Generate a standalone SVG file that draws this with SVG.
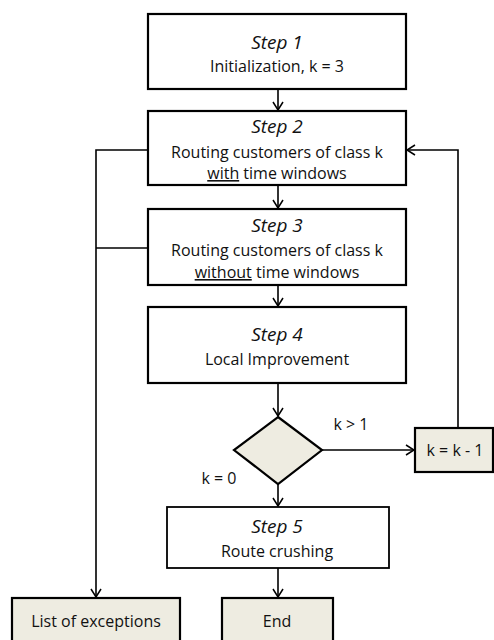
<svg xmlns="http://www.w3.org/2000/svg" width="494" height="640" viewBox="0 0 494 640">
<defs>
<marker id="arr" viewBox="0 0 12 12" refX="11" refY="6" markerWidth="12" markerHeight="12" markerUnits="userSpaceOnUse" orient="auto">
<polyline points="3,1 11,6 3,11" fill="none" stroke="#000" stroke-width="1.5"/>
</marker>
<style>
.box{fill:#fff;stroke:#000;stroke-width:2.2}
.beige{fill:#EEECE1;stroke:#000;stroke-width:2.2}
.t{font-family:"Open Sans","Liberation Sans",sans-serif;font-size:16px;fill:#111;text-anchor:middle}
.i{font-style:italic;font-size:19px}
.c{fill:none;stroke:#000;stroke-width:1.6}
</style>
</defs>
<rect width="494" height="640" fill="#fff"/>
<g id="connectors">
<path class="c" d="M278 89 V110" marker-end="url(#arr)"/>
<path class="c" d="M278 185 V208" marker-end="url(#arr)"/>
<path class="c" d="M278 285 V306" marker-end="url(#arr)"/>
<path class="c" d="M278 383 V416" marker-end="url(#arr)"/>
<path class="c" d="M322 450 H414" marker-end="url(#arr)"/>
<path class="c" d="M458 428 V150 H407" marker-end="url(#arr)"/>
<path class="c" d="M278 484 V506" marker-end="url(#arr)"/>
<path class="c" d="M278 568 V597" marker-end="url(#arr)"/>
<path class="c" d="M148 150 H96 V597" marker-end="url(#arr)"/>
<path class="c" d="M148 248 H96"/>
<text class="t" x="351" y="430">k &gt; 1</text>
<text class="t" x="219" y="484">k = 0</text>
</g>
<g id="step1">
<rect class="box" x="148" y="14" width="258" height="75"/>
<text class="t i" x="277" y="49">Step 1</text>
<text class="t" x="277" y="72">Initialization, k = 3</text>
</g>
<g id="step2">
<rect class="box" x="148" y="111" width="258" height="74"/>
<text class="t i" x="277" y="133">Step 2</text>
<text class="t" x="277" y="158">Routing customers of class k</text>
<text class="t" x="277" y="179"><tspan text-decoration="underline">with</tspan> time windows</text>
</g>
<g id="step3">
<rect class="box" x="148" y="209" width="258" height="76"/>
<text class="t i" x="277" y="232">Step 3</text>
<text class="t" x="277" y="256">Routing customers of class k</text>
<text class="t" x="277" y="278"><tspan text-decoration="underline">without</tspan> time windows</text>
</g>
<g id="step4">
<rect class="box" x="148" y="307" width="258" height="76"/>
<text class="t i" x="277" y="341">Step 4</text>
<text class="t" x="277" y="365">Local Improvement</text>
</g>
<g id="decision">
<polygon class="beige" points="278,417 322,450 278,484 234,450"/>
</g>
<g id="decrement">
<rect class="beige" x="415" y="428" width="78" height="44"/>
<text class="t" x="455" y="456">k = k - 1</text>
</g>
<g id="step5">
<rect class="box" x="167" y="507" width="222" height="61" style="stroke-width:1.8"/>
<text class="t i" x="277" y="533">Step 5</text>
<text class="t" x="277" y="557">Route crushing</text>
</g>
<g id="exceptions">
<rect class="beige" x="12" y="598" width="168" height="50"/>
<text class="t" x="96" y="627">List of exceptions</text>
</g>
<g id="end">
<rect class="beige" x="222" y="598" width="111" height="50"/>
<text class="t" x="277" y="627">End</text>
</g>
</svg>
